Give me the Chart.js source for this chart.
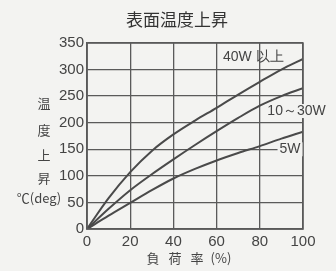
<!DOCTYPE html>
<html><head><meta charset="utf-8">
<script src="https://cdn.jsdelivr.net/npm/chart.js@4"></script>
<style>html,body{margin:0;padding:0;background:#f3f3f1;}#c{display:block;}</style>
</head><body>
<canvas id="c" width="336" height="271"></canvas>
<script>
const loads = [0,10,20,30,40,50,60,70,80,90,100];
const w40 = [0,58,107,147,178,204,228,253,277,300,320];
const w10_30 = [0,38,73,103,131,158,184,209,232,250,265];
const w5 = [0,25,49,73,95,113,129,143,156,170,183];
const seriesLabels = ['40W 以上','10～30W','5W'];
const xTicks = [0,20,40,60,80,100];
const yTicks = [0,50,100,150,200,250,300,350];
const title = '表面温度上昇';
const yTitleChars = ['温','度','上','昇'];
const yUnit = '℃(deg)';
const xTitleParts = ['負','荷','率','(%)'];

const FONT = '"Liberation Sans Narrow","Liberation Sans",Arial,sans-serif';
const INK = '#4a4a4a';
const toPts = arr => arr.map((v,i)=>({x:loads[i],y:v}));

const textPlugin = {
  id:'texts',
  afterDraw(chart){
    const ctx = chart.ctx, xs = chart.scales.x, ys = chart.scales.y;
    ctx.save();
    ctx.fillStyle = '#333';
    ctx.textAlign='center'; ctx.textBaseline='middle';
    ctx.font = '17px "Noto Sans CJK JP",sans-serif';
    ctx.fillText(title, 177, 20);
    ctx.font = '13px "Noto Sans CJK JP",sans-serif';
    ctx.fillStyle = '#444';
    const yc = [103,130,155,178];
    yTitleChars.forEach((c,i)=>ctx.fillText(c,44,yc[i]));
    ctx.fillText(yUnit, 39, 198);
    const xc = [153,175,197,221];
    xTitleParts.forEach((c,i)=>ctx.fillText(c,xc[i],258));
    // series labels
    ctx.font = '14px '+FONT;
    const lab = (t,x,y,bg)=>{
      if(bg){const w=ctx.measureText(t).width; ctx.fillStyle='#f3f3f1'; ctx.fillRect(x-w/2-2,y-7,w+4,14);}
      ctx.fillStyle='#444'; ctx.fillText(t,x,y);
    };
    lab(seriesLabels[0], xs.getPixelForValue(77), ys.getPixelForValue(323), false);
    lab(seriesLabels[1], xs.getPixelForValue(97), ys.getPixelForValue(222), true);
    lab(seriesLabels[2], xs.getPixelForValue(94), ys.getPixelForValue(150), true);
    ctx.restore();
  }
};

const ds = (d)=>({data:toPts(d), borderColor:INK, borderWidth:2, pointRadius:0, fill:false, cubicInterpolationMode:'monotone'});

new Chart(document.getElementById('c'),{
  type:'line',
  data:{datasets:[ds(w40),ds(w10_30),ds(w5)]},
  options:{
    responsive:false, animation:false, devicePixelRatio:1,
    layout:{padding:{top:43,right:33,left:0,bottom:0}},
    plugins:{legend:{display:false},tooltip:{enabled:false},title:{display:false}},
    scales:{
      x:{type:'linear',min:0,max:100,
        afterBuildTicks:s=>{s.ticks=xTicks.map(v=>({value:v}));},
        afterFit:s=>{s.height=42;},
        grid:{color:'#5a5a5a',lineWidth:1.3,drawTicks:false},
        border:{color:'#5a5a5a',width:1.5},
        ticks:{color:'#444',font:{family:FONT,size:15},padding:4,maxRotation:0}
      },
      y:{type:'linear',min:0,max:350,
        afterBuildTicks:s=>{s.ticks=yTicks.map(v=>({value:v}));},
        afterFit:s=>{s.width=87;},
        grid:{color:'#5a5a5a',lineWidth:1.3,drawTicks:false},
        border:{color:'#5a5a5a',width:1.5},
        ticks:{color:'#444',font:{family:FONT,size:15},padding:3}
      }
    }
  },
  plugins:[textPlugin,{
    id:'frame',
    afterDatasetsDraw(chart){
      const a=chart.chartArea, ctx=chart.ctx;
      ctx.save(); ctx.strokeStyle='#5a5a5a'; ctx.lineWidth=1.5;
      ctx.strokeRect(a.left,a.top,a.right-a.left,a.bottom-a.top); ctx.restore();
    }
  }]
});
</script>
</body></html>
